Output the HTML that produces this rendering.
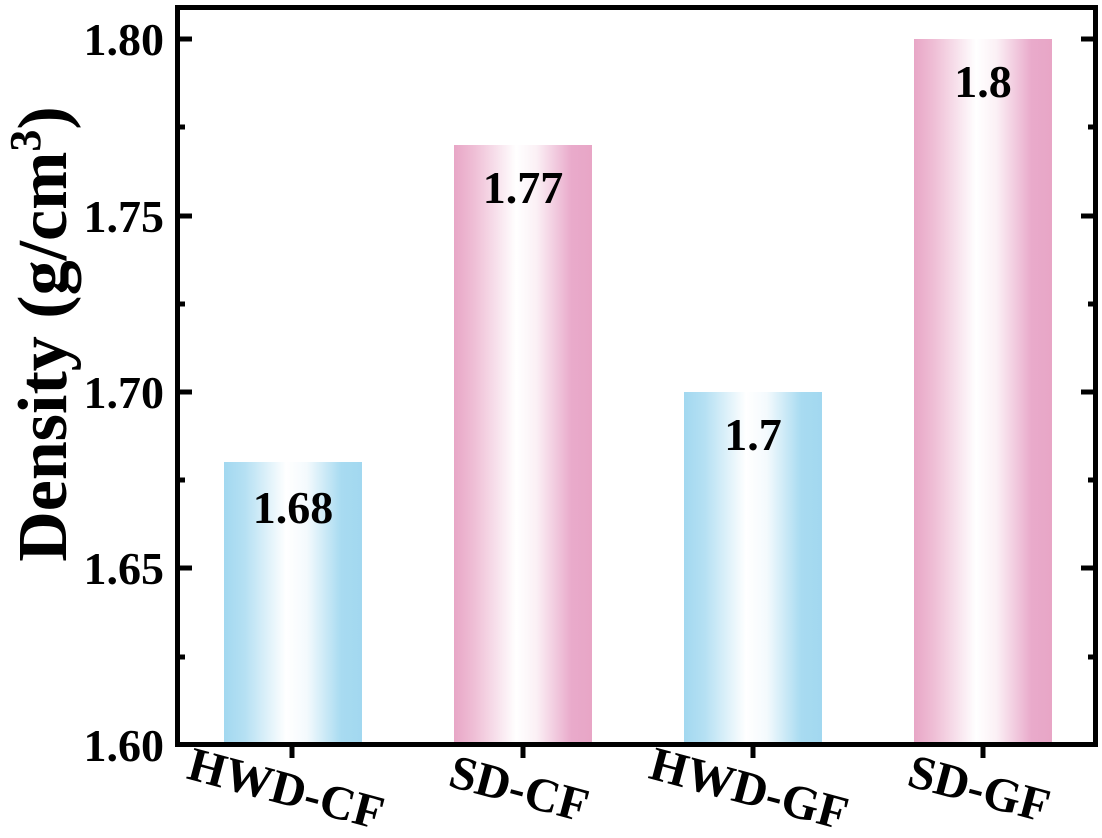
<!DOCTYPE html>
<html><head><meta charset="utf-8"><style>
html,body{margin:0;padding:0;background:#fff;}
</style></head><body>
<svg width="1102" height="833" xmlns="http://www.w3.org/2000/svg" font-family="'Liberation Serif',serif" font-weight="bold">
<defs>
<linearGradient id="b" x1="0" x2="1" y1="0" y2="0">
<stop offset="0" stop-color="#a2d8f0"/><stop offset="0.15" stop-color="#b5e0f3"/><stop offset="0.45" stop-color="#ffffff"/><stop offset="0.6" stop-color="#f4fafd"/><stop offset="0.85" stop-color="#a8dbf1"/><stop offset="1" stop-color="#a2d8f0"/>
</linearGradient>
<linearGradient id="p" x1="0" x2="1" y1="0" y2="0">
<stop offset="0" stop-color="#e8a6c6"/><stop offset="0.15" stop-color="#efbfd6"/><stop offset="0.45" stop-color="#ffffff"/><stop offset="0.6" stop-color="#fbf0f5"/><stop offset="0.85" stop-color="#e9aacb"/><stop offset="1" stop-color="#e8a6c6"/>
</linearGradient>
</defs>
<rect x="224" y="462" width="138" height="283" fill="url(#b)"/>
<rect x="454" y="145" width="138" height="600" fill="url(#p)"/>
<rect x="684" y="392" width="138" height="353" fill="url(#b)"/>
<rect x="914" y="39" width="138" height="706" fill="url(#p)"/>
<g font-size="46" text-anchor="middle" fill="#000">
<text x="293" y="523">1.68</text>
<text x="523" y="203">1.77</text>
<text x="753" y="450">1.7</text>
<text x="983" y="97">1.8</text>
</g>
<rect x="177.5" y="7.5" width="918" height="737" fill="none" stroke="#000" stroke-width="5"/>
<g stroke="#000" stroke-width="5">
<line x1="177" y1="39" x2="192" y2="39"/><line x1="177" y1="216" x2="192" y2="216"/><line x1="177" y1="392" x2="192" y2="392"/><line x1="177" y1="568" x2="192" y2="568"/>
<line x1="177" y1="127" x2="185" y2="127"/><line x1="177" y1="304" x2="185" y2="304"/><line x1="177" y1="480" x2="185" y2="480"/><line x1="177" y1="657" x2="185" y2="657"/>
<line x1="1096" y1="39" x2="1081" y2="39"/><line x1="1096" y1="216" x2="1081" y2="216"/><line x1="1096" y1="392" x2="1081" y2="392"/><line x1="1096" y1="568" x2="1081" y2="568"/>
<line x1="1096" y1="127" x2="1088" y2="127"/><line x1="1096" y1="304" x2="1088" y2="304"/><line x1="1096" y1="480" x2="1088" y2="480"/><line x1="1096" y1="657" x2="1088" y2="657"/>
<line x1="292" y1="744" x2="292" y2="758"/><line x1="523" y1="744" x2="523" y2="758"/><line x1="753" y1="744" x2="753" y2="758"/><line x1="983" y1="744" x2="983" y2="758"/>
</g>
<g font-size="46" text-anchor="end" fill="#000">
<text x="164" y="55">1.80</text><text x="164" y="232">1.75</text><text x="164" y="408">1.70</text><text x="164" y="584">1.65</text><text x="164" y="761">1.60</text>
</g>
<g font-size="48" text-anchor="middle" fill="#000">
<text transform="translate(282,804) rotate(15)">HWD-CF</text>
<text transform="translate(515,804) rotate(15)">SD-CF</text>
<text transform="translate(745,804) rotate(15)">HWD-GF</text>
<text transform="translate(975,804) rotate(15)">SD-GF</text>
</g>
<text transform="translate(66,334) rotate(-90)" font-size="70" text-anchor="middle" fill="#000">Density (g/cm<tspan dy="-26" font-size="44">3</tspan><tspan dy="26">)</tspan></text>
</svg>
</body></html>
